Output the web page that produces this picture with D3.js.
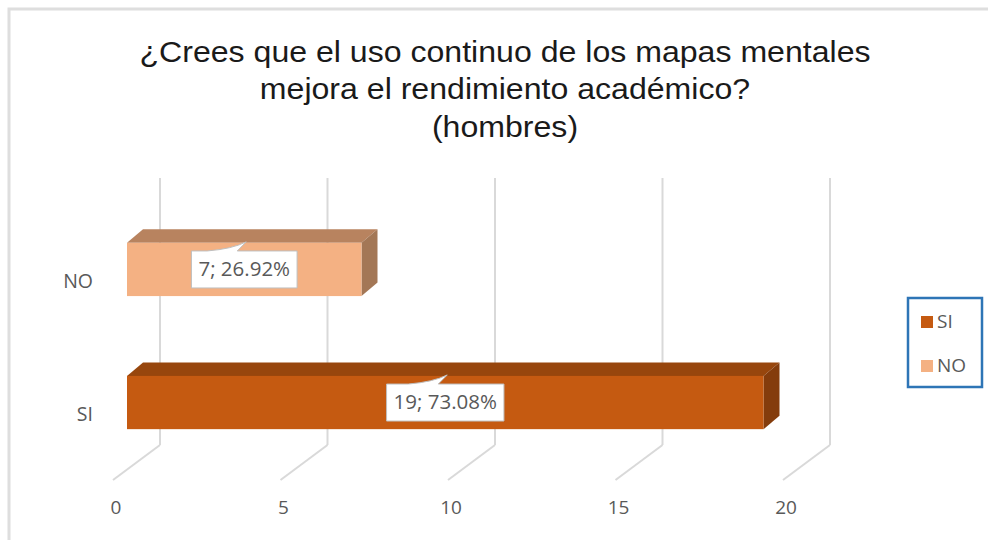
<html>
<head>
<meta charset="utf-8">
<script src="https://d3js.org/d3.v7.min.js"></script>
<style>
body { margin: 0; background: #fff; }
svg { display: block; }
.title { font-family: "Liberation Sans", Arial, sans-serif; font-size: 30px; fill: #1a1a1a; }
.lbl { font-family: "Open Sans", sans-serif; fill: #595959; }
</style>
</head>
<body>
<svg width="988" height="540"></svg>
<script>

// data
var categories = ["SI", "NO"];
var values = [19, 7];
var percents = ["73.08%", "26.92%"];
var tickValues = [0, 5, 10, 15, 20];
var titleLines = ["¿Crees que el uso continuo de los mapas mentales",
                  "mejora el rendimiento académico?",
                  "(hombres)"];

var colors = {
  SI: {front: "#C55A11", top: "#97460D", side: "#843C0C"},
  NO: {front: "#F4B183", top: "#B8835F", side: "#A37756"}
};

var svg = d3.select("svg");

// frame
svg.append("path")
    .attr("d", "M9,540 L9,9 L988,9")
    .attr("fill", "none")
    .attr("stroke", "#dedede")
    .attr("stroke-width", 3);

// title (slightly wide, as in the original)
svg.append("g")
    .attr("transform", "translate(505,0) scale(1.07,1)")
  .append("text")
    .attr("class", "title")
    .attr("text-anchor", "middle")
    .selectAll("tspan")
    .data(titleLines)
    .enter().append("tspan")
    .attr("x", 0)
    .attr("y", (d, i) => 62 + i * 37.5)
    .text(d => d);

// scales (front plane of the floor)
var x = d3.scaleLinear().domain([0, 20]).range([113, 783]);
var y = d3.scaleBand().domain(["NO", "SI"]).range([163, 509]).padding(0.6);

var depth = {dx: 47, dy: -35};       // full floor depth
var floorY = 480, wallTop = 178;
var barOff = 14, barDx = 16, barDy = -13.5;

// back wall + floor gridlines
var grid = svg.append("g")
    .attr("fill", "none")
    .attr("stroke", "#d9d9d9")
    .attr("stroke-width", 2);

grid.selectAll(".wall")
    .data(tickValues)
    .enter().append("line")
    .attr("x1", d => x(d) + depth.dx)
    .attr("x2", d => x(d) + depth.dx)
    .attr("y1", wallTop)
    .attr("y2", floorY + depth.dy);

grid.selectAll(".floor")
    .data(tickValues)
    .enter().append("line")
    .attr("x1", d => x(d) + depth.dx)
    .attr("y1", floorY + depth.dy)
    .attr("x2", d => x(d))
    .attr("y2", floorY);

// x tick labels
svg.selectAll(".tick")
    .data(tickValues)
    .enter().append("text")
    .attr("class", "lbl")
    .attr("x", d => x(d) + 3)
    .attr("y", 509)
    .attr("text-anchor", "middle")
    .attr("dominant-baseline", "middle")
    .style("font-size", "19px")
    .text(d => d);

// category labels
svg.selectAll(".cat")
    .data(categories)
    .enter().append("text")
    .attr("class", "lbl")
    .attr("x", 93)
    .attr("y", d => y(d) + y.bandwidth() / 2 + 13)
    .attr("text-anchor", "end")
    .attr("dominant-baseline", "middle")
    .style("font-size", "19.5px")
    .text(d => d);

// 3d bars
var bars = svg.selectAll(".bar")
    .data(categories.map((c, i) => ({cat: c, value: values[i], pct: percents[i]})))
    .enter().append("g");

bars.each(function(d) {
  var g = d3.select(this);
  var x0 = x(0) + barOff, x1 = x(d.value) + barOff;
  var y0 = y(d.cat), y1 = y(d.cat) + y.bandwidth();
  var c = colors[d.cat];
  g.append("polygon")
      .attr("points", [[x0, y0], [x0 + barDx, y0 + barDy], [x1 + barDx, y0 + barDy], [x1, y0]].join(" "))
      .attr("fill", c.top);
  g.append("polygon")
      .attr("points", [[x1, y0], [x1 + barDx, y0 + barDy], [x1 + barDx, y1 + barDy], [x1, y1]].join(" "))
      .attr("fill", c.side);
  g.append("rect")
      .attr("x", x0).attr("y", y0)
      .attr("width", x1 - x0).attr("height", y1 - y0)
      .attr("fill", c.front);

  // callout label
  var cx = (x0 + x1) / 2, cy = (y0 + y1) / 2;
  var lab = g.append("g");
  var t = lab.append("text")
      .attr("class", "lbl")
      .attr("x", cx).attr("y", cy + 1)
      .attr("text-anchor", "middle")
      .attr("dominant-baseline", "middle")
      .style("font-size", "20.5px")
      .text(d.value + "; " + d.pct);
  var w = t.node().getComputedTextLength() + 14, h = 37;
  var bx = cx - w / 2, by = cy - h / 2;
  lab.insert("path", "text")
      .attr("d", "M" + bx + "," + by +
                 " L" + (cx - 37) + "," + by +
                 " Q" + (cx - 12) + "," + (by - 2) + " " + (cx + 2) + "," + (y0 - 1) +
                 " L" + (cx - 7) + "," + by +
                 " L" + (bx + w) + "," + by +
                 " L" + (bx + w) + "," + (by + h) +
                 " L" + bx + "," + (by + h) + " Z")
      .attr("fill", "#fff")
      .attr("stroke", "#bfbfbf")
      .attr("stroke-width", 1);
});

// legend
var legend = svg.append("g");
legend.append("rect")
    .attr("x", 908).attr("y", 298)
    .attr("width", 74).attr("height", 89)
    .attr("fill", "#fff")
    .attr("stroke", "#2E75B6")
    .attr("stroke-width", 2.5);

var items = legend.selectAll(".item")
    .data(categories)
    .enter().append("g")
    .attr("transform", (d, i) => "translate(921," + (316 + i * 44) + ")");
items.append("rect")
    .attr("width", 12).attr("height", 12)
    .attr("fill", d => colors[d].front);
items.append("text")
    .attr("class", "lbl")
    .attr("x", 16).attr("y", 7)
    .attr("dominant-baseline", "middle")
    .style("font-size", "19px")
    .text(d => d);

</script>
</body>
</html>
